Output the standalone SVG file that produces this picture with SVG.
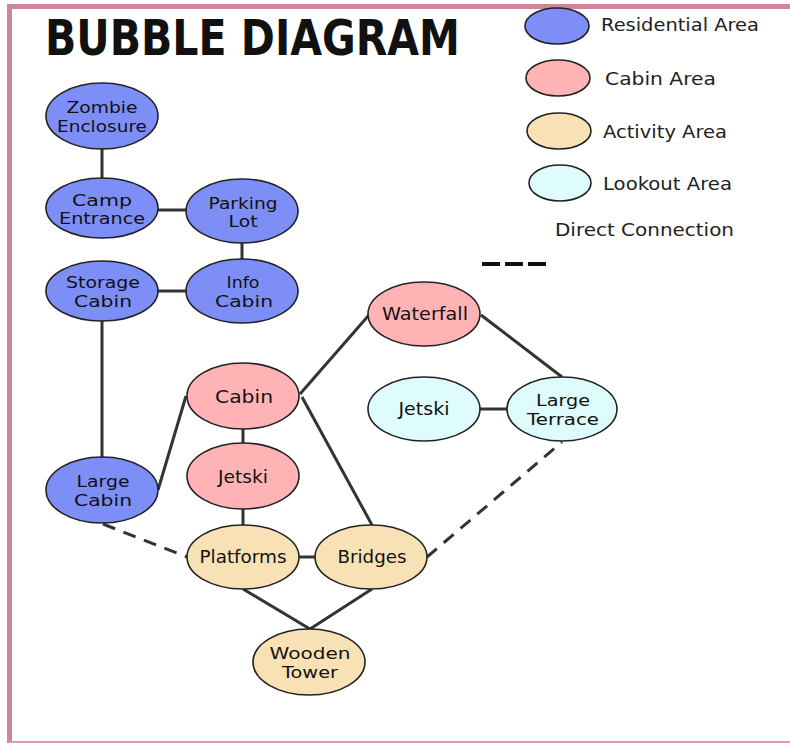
<svg xmlns="http://www.w3.org/2000/svg" width="790" height="743" viewBox="0 0 790 743">
<style>
.res{fill:#7d8ef7;stroke:#222;stroke-width:1.6}
.cab{fill:#ffb3b5;stroke:#222;stroke-width:1.6}
.act{fill:#f8e2b5;stroke:#222;stroke-width:1.6}
.look{fill:#dffcfc;stroke:#222;stroke-width:1.6}
.lbl{font-family:"DejaVu Sans","Liberation Sans",sans-serif;font-size:16.5px;fill:#111;text-anchor:middle}
.one{font-size:18px}
.leg{font-family:"DejaVu Sans","Liberation Sans",sans-serif;font-size:18px;fill:#222}
.solid{stroke:#333;stroke-width:3;fill:none}
.dash{stroke:#333;stroke-width:3;fill:none;stroke-dasharray:13 9}
</style>
<rect width="790" height="743" fill="#fff"/>
<g id="border">
<path d="M9.5,743 V6.5 H790" fill="none" stroke="#c98797" stroke-width="5"/>
<line x1="9" y1="742" x2="790" y2="742" stroke="#d7a0b2" stroke-width="2"/>
</g>
<text id="title" x="45" y="55" font-family="DejaVu Sans,Liberation Sans,sans-serif" font-weight="bold" font-size="50" textLength="415" lengthAdjust="spacingAndGlyphs" fill="#111">BUBBLE DIAGRAM</text>
<g id="legend">
<ellipse class="res" cx="557" cy="26" rx="32" ry="18"/>
<text class="leg" x="601" y="31" textLength="158" lengthAdjust="spacingAndGlyphs">Residential Area</text>
<ellipse class="cab" cx="558" cy="78" rx="32" ry="18"/>
<text class="leg" x="605" y="85" textLength="111" lengthAdjust="spacingAndGlyphs">Cabin Area</text>
<ellipse class="act" cx="559" cy="131" rx="32" ry="18"/>
<text class="leg" x="603" y="138" textLength="124" lengthAdjust="spacingAndGlyphs">Activity Area</text>
<ellipse class="look" cx="560" cy="183" rx="31" ry="18"/>
<text class="leg" x="603" y="190" textLength="129" lengthAdjust="spacingAndGlyphs">Lookout Area</text>
<text class="leg" x="555" y="236" textLength="179" lengthAdjust="spacingAndGlyphs">Direct Connection</text>
<line x1="482" y1="264" x2="548" y2="264" stroke="#111" stroke-width="4" stroke-dasharray="18 5"/>
</g>
<g id="connectors">
<line class="solid" x1="102" y1="149" x2="102" y2="179"/>
<line class="solid" x1="158" y1="210" x2="187" y2="210"/>
<line class="solid" x1="242" y1="243" x2="242" y2="259"/>
<line class="solid" x1="158" y1="291" x2="187" y2="291"/>
<line class="solid" x1="102" y1="320" x2="102" y2="458"/>
<line class="solid" x1="158" y1="490" x2="186" y2="396"/>
<line class="solid" x1="300" y1="394" x2="369" y2="315"/>
<line class="solid" x1="302" y1="397" x2="372" y2="525"/>
<line class="solid" x1="243" y1="428" x2="243" y2="443"/>
<line class="solid" x1="243" y1="508" x2="243" y2="525"/>
<line class="solid" x1="298" y1="557" x2="315" y2="557"/>
<line class="solid" x1="243" y1="589" x2="310" y2="629"/>
<line class="solid" x1="372" y1="589" x2="310" y2="629"/>
<line class="solid" x1="481" y1="315" x2="562" y2="377"/>
<line class="solid" x1="480" y1="409" x2="507" y2="409"/>
<line class="dash" x1="103" y1="524" x2="187" y2="557"/>
<line class="dash" x1="427" y1="557" x2="562" y2="442"/>
</g>
<g id="zombie-enclosure"><ellipse class="res" cx="102" cy="116" rx="56" ry="33"/><text class="lbl" x="102" y="113" textLength="71" lengthAdjust="spacingAndGlyphs">Zombie</text><text class="lbl" x="102" y="131.5" textLength="90" lengthAdjust="spacingAndGlyphs">Enclosure</text></g>
<g id="camp-entrance"><ellipse class="res" cx="102" cy="208" rx="56" ry="30"/><text class="lbl" x="102" y="205.5" textLength="60" lengthAdjust="spacingAndGlyphs">Camp</text><text class="lbl" x="102" y="224" textLength="86" lengthAdjust="spacingAndGlyphs">Entrance</text></g>
<g id="parking-lot"><ellipse class="res" cx="242" cy="211" rx="56" ry="32"/><text class="lbl" x="243" y="208.5" textLength="69" lengthAdjust="spacingAndGlyphs">Parking</text><text class="lbl" x="243" y="227" textLength="29" lengthAdjust="spacingAndGlyphs">Lot</text></g>
<g id="storage-cabin"><ellipse class="res" cx="102" cy="291" rx="56" ry="30"/><text class="lbl" x="103" y="288" textLength="74" lengthAdjust="spacingAndGlyphs">Storage</text><text class="lbl" x="103" y="306.5" textLength="58" lengthAdjust="spacingAndGlyphs">Cabin</text></g>
<g id="info-cabin"><ellipse class="res" cx="242" cy="291" rx="56" ry="32"/><text class="lbl" x="243" y="288" textLength="33" lengthAdjust="spacingAndGlyphs">Info</text><text class="lbl" x="244" y="306.5" textLength="58" lengthAdjust="spacingAndGlyphs">Cabin</text></g>
<g id="large-cabin"><ellipse class="res" cx="102" cy="490" rx="56" ry="33"/><text class="lbl" x="103" y="487" textLength="53" lengthAdjust="spacingAndGlyphs">Large</text><text class="lbl" x="103" y="505.5" textLength="58" lengthAdjust="spacingAndGlyphs">Cabin</text></g>
<g id="cabin"><ellipse class="cab" cx="243" cy="396" rx="56" ry="33"/><text class="lbl one" x="244" y="403" textLength="58" lengthAdjust="spacingAndGlyphs">Cabin</text></g>
<g id="jetski-cabin"><ellipse class="cab" cx="243" cy="476" rx="56" ry="33"/><text class="lbl one" x="243" y="483" textLength="50" lengthAdjust="spacingAndGlyphs">Jetski</text></g>
<g id="waterfall"><ellipse class="cab" cx="424" cy="314" rx="56" ry="32"/><text class="lbl one" x="425" y="320" textLength="86" lengthAdjust="spacingAndGlyphs">Waterfall</text></g>
<g id="jetski-lookout"><ellipse class="look" cx="424" cy="409" rx="56" ry="32"/><text class="lbl one" x="424" y="415" textLength="51" lengthAdjust="spacingAndGlyphs">Jetski</text></g>
<g id="large-terrace"><ellipse class="look" cx="562" cy="409" rx="55" ry="32"/><text class="lbl" x="563" y="406" textLength="54" lengthAdjust="spacingAndGlyphs">Large</text><text class="lbl" x="563" y="424.5" textLength="72" lengthAdjust="spacingAndGlyphs">Terrace</text></g>
<g id="platforms"><ellipse class="act" cx="243" cy="557" rx="56" ry="32"/><text class="lbl one" x="243" y="563" textLength="87" lengthAdjust="spacingAndGlyphs">Platforms</text></g>
<g id="bridges"><ellipse class="act" cx="371" cy="557" rx="56" ry="32"/><text class="lbl one" x="372" y="563" textLength="69" lengthAdjust="spacingAndGlyphs">Bridges</text></g>
<g id="wooden-tower"><ellipse class="act" cx="309" cy="662" rx="56" ry="33"/><text class="lbl" x="310" y="659" textLength="81" lengthAdjust="spacingAndGlyphs">Wooden</text><text class="lbl" x="310" y="677.5" textLength="56" lengthAdjust="spacingAndGlyphs">Tower</text></g>
</svg>
